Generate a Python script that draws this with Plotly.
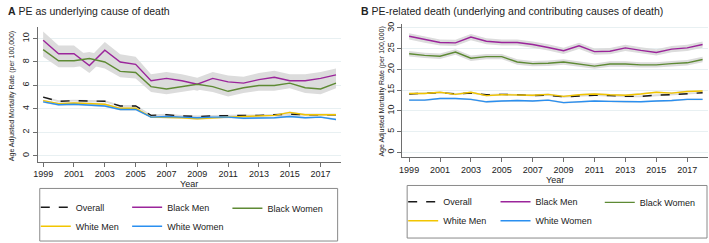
import plotly.graph_objects as go

years = list(range(1999, 2019))
tick_years = list(range(1999, 2018, 2))

# Panel A: PE as underlying cause of death
a_overall = [5.0, 4.65, 4.7, 4.65, 4.65, 4.25, 4.25, 3.45, 3.5, 3.4, 3.35, 3.4, 3.45, 3.45, 3.45, 3.5, 3.55, 3.5, 3.5, 3.5]
a_black_men = [9.85, 8.7, 8.7, 7.7, 9.0, 8.0, 7.8, 6.4, 6.6, 6.4, 6.1, 6.6, 6.3, 6.2, 6.5, 6.7, 6.4, 6.4, 6.6, 6.9]
a_black_women = [9.05, 8.1, 8.1, 8.3, 8.0, 7.2, 7.1, 5.9, 5.7, 5.9, 6.1, 5.9, 5.5, 5.8, 6.0, 6.0, 6.2, 5.8, 5.7, 6.2]
a_white_men = [4.7, 4.45, 4.5, 4.45, 4.4, 4.05, 4.05, 3.3, 3.3, 3.25, 3.15, 3.25, 3.3, 3.35, 3.4, 3.45, 3.7, 3.5, 3.5, 3.5]
a_white_women = [4.6, 4.35, 4.4, 4.35, 4.25, 3.95, 3.95, 3.3, 3.35, 3.3, 3.25, 3.3, 3.3, 3.2, 3.2, 3.25, 3.35, 3.25, 3.3, 3.1]
a_ci_black_men = [0.75, 0.7, 0.7, 0.65, 0.7, 0.65, 0.65, 0.55, 0.55, 0.55, 0.55, 0.55, 0.55, 0.55, 0.55, 0.55, 0.55, 0.55, 0.55, 0.55]
a_ci_black_women = [0.6, 0.55, 0.55, 0.55, 0.55, 0.5, 0.5, 0.45, 0.45, 0.45, 0.45, 0.45, 0.45, 0.45, 0.45, 0.45, 0.45, 0.45, 0.45, 0.45]
a_ci_white = [0.08] * 20

# Panel B: PE-related death (underlying and contributing causes)
b_overall = [14.1, 14.3, 14.4, 14.1, 14.3, 13.9, 14.0, 13.9, 13.7, 13.8, 13.4, 13.6, 13.8, 13.7, 13.5, 13.5, 13.8, 13.9, 14.2, 14.4]
b_black_men = [28.0, 27.2, 26.5, 26.4, 27.8, 26.8, 26.5, 26.5, 26.0, 25.3, 24.5, 25.7, 24.3, 24.4, 25.2, 24.6, 24.1, 24.9, 25.2, 26.0]
b_black_women = [23.8, 23.4, 23.2, 24.2, 22.7, 23.1, 23.1, 21.8, 21.4, 21.5, 21.8, 21.3, 20.8, 21.3, 21.3, 21.1, 21.1, 21.4, 21.6, 22.4]
b_white_men = [14.2, 14.2, 14.5, 14.0, 14.5, 13.7, 13.9, 13.9, 13.8, 14.0, 13.5, 13.9, 14.1, 13.9, 13.8, 14.1, 14.5, 14.3, 14.7, 14.8]
b_white_women = [12.6, 12.6, 13.0, 13.0, 12.8, 12.2, 12.4, 12.5, 12.4, 12.6, 12.0, 12.2, 12.4, 12.3, 12.2, 12.2, 12.4, 12.5, 12.8, 12.8]
b_ci_black_men = [0.75] * 20
b_ci_black_women = [0.65] * 20
b_ci_white = [0.2] * 20

series_names = ["Overall", "Black Men", "Black Women", "White Men", "White Women"]
colors = {"Overall": "#1a1a1a", "Black Men": "#9b259b", "Black Women": "#5e8a34",
          "White Men": "#f2c500", "White Women": "#2a8ff0"}
dashes = {"Overall": "dash"}
band_color = "#dcdcdc"
FONT = "Arial, Liberation Sans, sans-serif"

fig = go.Figure()

def add_panel(xa, ya, data, cis, legends):
    # bands first
    for name in series_names:
        vals = data[name]
        ci = cis[name]
        upper = [v + c for v, c in zip(vals, ci)]
        lower = [v - c for v, c in zip(vals, ci)]
        fig.add_trace(go.Scatter(
            x=years + years[::-1], y=upper + lower[::-1], fill="toself",
            fillcolor=band_color, line=dict(width=0), mode="lines",
            hoverinfo="skip", showlegend=False, xaxis=xa, yaxis=ya))
    for name in series_names:
        fig.add_trace(go.Scatter(
            x=years, y=data[name], mode="lines", name=name,
            line=dict(color=colors[name], width=1.4, dash=dashes.get(name, "solid")),
            xaxis=xa, yaxis=ya, legend=legends[name]))

add_panel("x", "y",
          {"Overall": a_overall, "Black Men": a_black_men, "Black Women": a_black_women,
           "White Men": a_white_men, "White Women": a_white_women},
          {"Overall": a_ci_white, "Black Men": a_ci_black_men, "Black Women": a_ci_black_women,
           "White Men": a_ci_white, "White Women": a_ci_white},
          {"Overall": "legend", "Black Men": "legend2", "Black Women": "legend3",
           "White Men": "legend", "White Women": "legend2"})
add_panel("x2", "y2",
          {"Overall": b_overall, "Black Men": b_black_men, "Black Women": b_black_women,
           "White Men": b_white_men, "White Women": b_white_women},
          {"Overall": b_ci_white, "Black Men": b_ci_black_men, "Black Women": b_ci_black_women,
           "White Men": b_ci_white, "White Women": b_ci_white},
          {"Overall": "legend4", "Black Men": "legend5", "Black Women": "legend6",
           "White Men": "legend4", "White Women": "legend5"})

W, H = 709, 243
def px(x):
    return x / W
def py(y):
    return 1 - y / H

axis_common = dict(showline=True, linecolor="#6e6e6e", linewidth=1, ticks="outside",
                   ticklen=4, tickcolor="#6e6e6e", tickfont=dict(size=9, color="#222"),
                   zeroline=False)
xcommon = dict(axis_common, tickvals=tick_years, showgrid=False,
               title=dict(text="Year", font=dict(size=9, color="#222"), standoff=2))

grid = "#e8f0f2"
fig.update_layout(
    width=W, height=H, margin=dict(l=0, r=0, t=0, b=0),
    paper_bgcolor="white", plot_bgcolor="white",
    font=dict(family=FONT, color="#222"),
    xaxis=dict(xcommon, domain=[px(33), px(338)], range=[1998.65, 2018.3], anchor="y"),
    yaxis=dict(axis_common, domain=[py(161), py(25)], range=[-0.5, 11.0], anchor="x",
               tickvals=[0, 2, 4, 6, 8, 10], tickangle=-90, showgrid=True, gridcolor=grid),
    xaxis2=dict(xcommon, domain=[px(400), px(708)], range=[1998.55, 2018.35], anchor="y2"),
    yaxis2=dict(axis_common, domain=[py(156.7), py(22)], range=[-1.2, 31.0], anchor="x2",
                tickvals=[0, 5, 10, 15, 20, 25, 30], tickangle=-90, showgrid=True, gridcolor=grid),
    showlegend=True,
)

leg_common = dict(orientation="v", xanchor="left", yanchor="middle", bgcolor="rgba(0,0,0,0)",
                  font=dict(size=9, color="#222"), itemwidth=30, tracegroupgap=0, itemclick=False)
OFF = 8
fig.update_layout(
    legend=dict(leg_common, x=px(39 - OFF), y=py(216.5)),
    legend2=dict(leg_common, x=px(131 - OFF), y=py(216.5)),
    legend3=dict(leg_common, x=px(232 - OFF), y=py(208)),
    legend4=dict(leg_common, x=px(409 - OFF), y=py(211)),
    legend5=dict(leg_common, x=px(502 - OFF), y=py(211)),
    legend6=dict(leg_common, x=px(607 - OFF), y=py(202)),
)

# legend boxes
fig.add_shape(type="rect", xref="paper", yref="paper", x0=px(35), x1=px(335), y0=py(241), y1=py(188),
              line=dict(color="#8a8a8a", width=1))
fig.add_shape(type="rect", xref="paper", yref="paper", x0=px(405), x1=px(707), y0=py(238), y1=py(185),
              line=dict(color="#8a8a8a", width=1))

# panel titles
fig.add_annotation(xref="paper", yref="paper", x=px(1), y=py(9), xanchor="left", yanchor="middle",
                   text="<b>A</b> PE as underlying cause of death", showarrow=False,
                   font=dict(size=10.5, color="#222"))
fig.add_annotation(xref="paper", yref="paper", x=px(357), y=py(9), xanchor="left", yanchor="middle",
                   text="<b>B</b> PE-related death (underlying and contributing causes of death)", showarrow=False,
                   font=dict(size=10.5, color="#222"))
# y-axis titles
ytitle = "Age Adjusted Mortality Rate (per 100,000)"
fig.add_annotation(xref="paper", yref="paper", x=px(7), y=py(95), xanchor="center", yanchor="middle",
                   text=ytitle, textangle=-90, showarrow=False, font=dict(size=7, color="#222"))
fig.add_annotation(xref="paper", yref="paper", x=px(380), y=py(90), xanchor="center", yanchor="middle",
                   text=ytitle, textangle=-90, showarrow=False, font=dict(size=7, color="#222"))

fig.write_html("out.html", config={"displayModeBar": False},
               post_script="document.body.style.margin='0';document.body.style.overflow='hidden';")
